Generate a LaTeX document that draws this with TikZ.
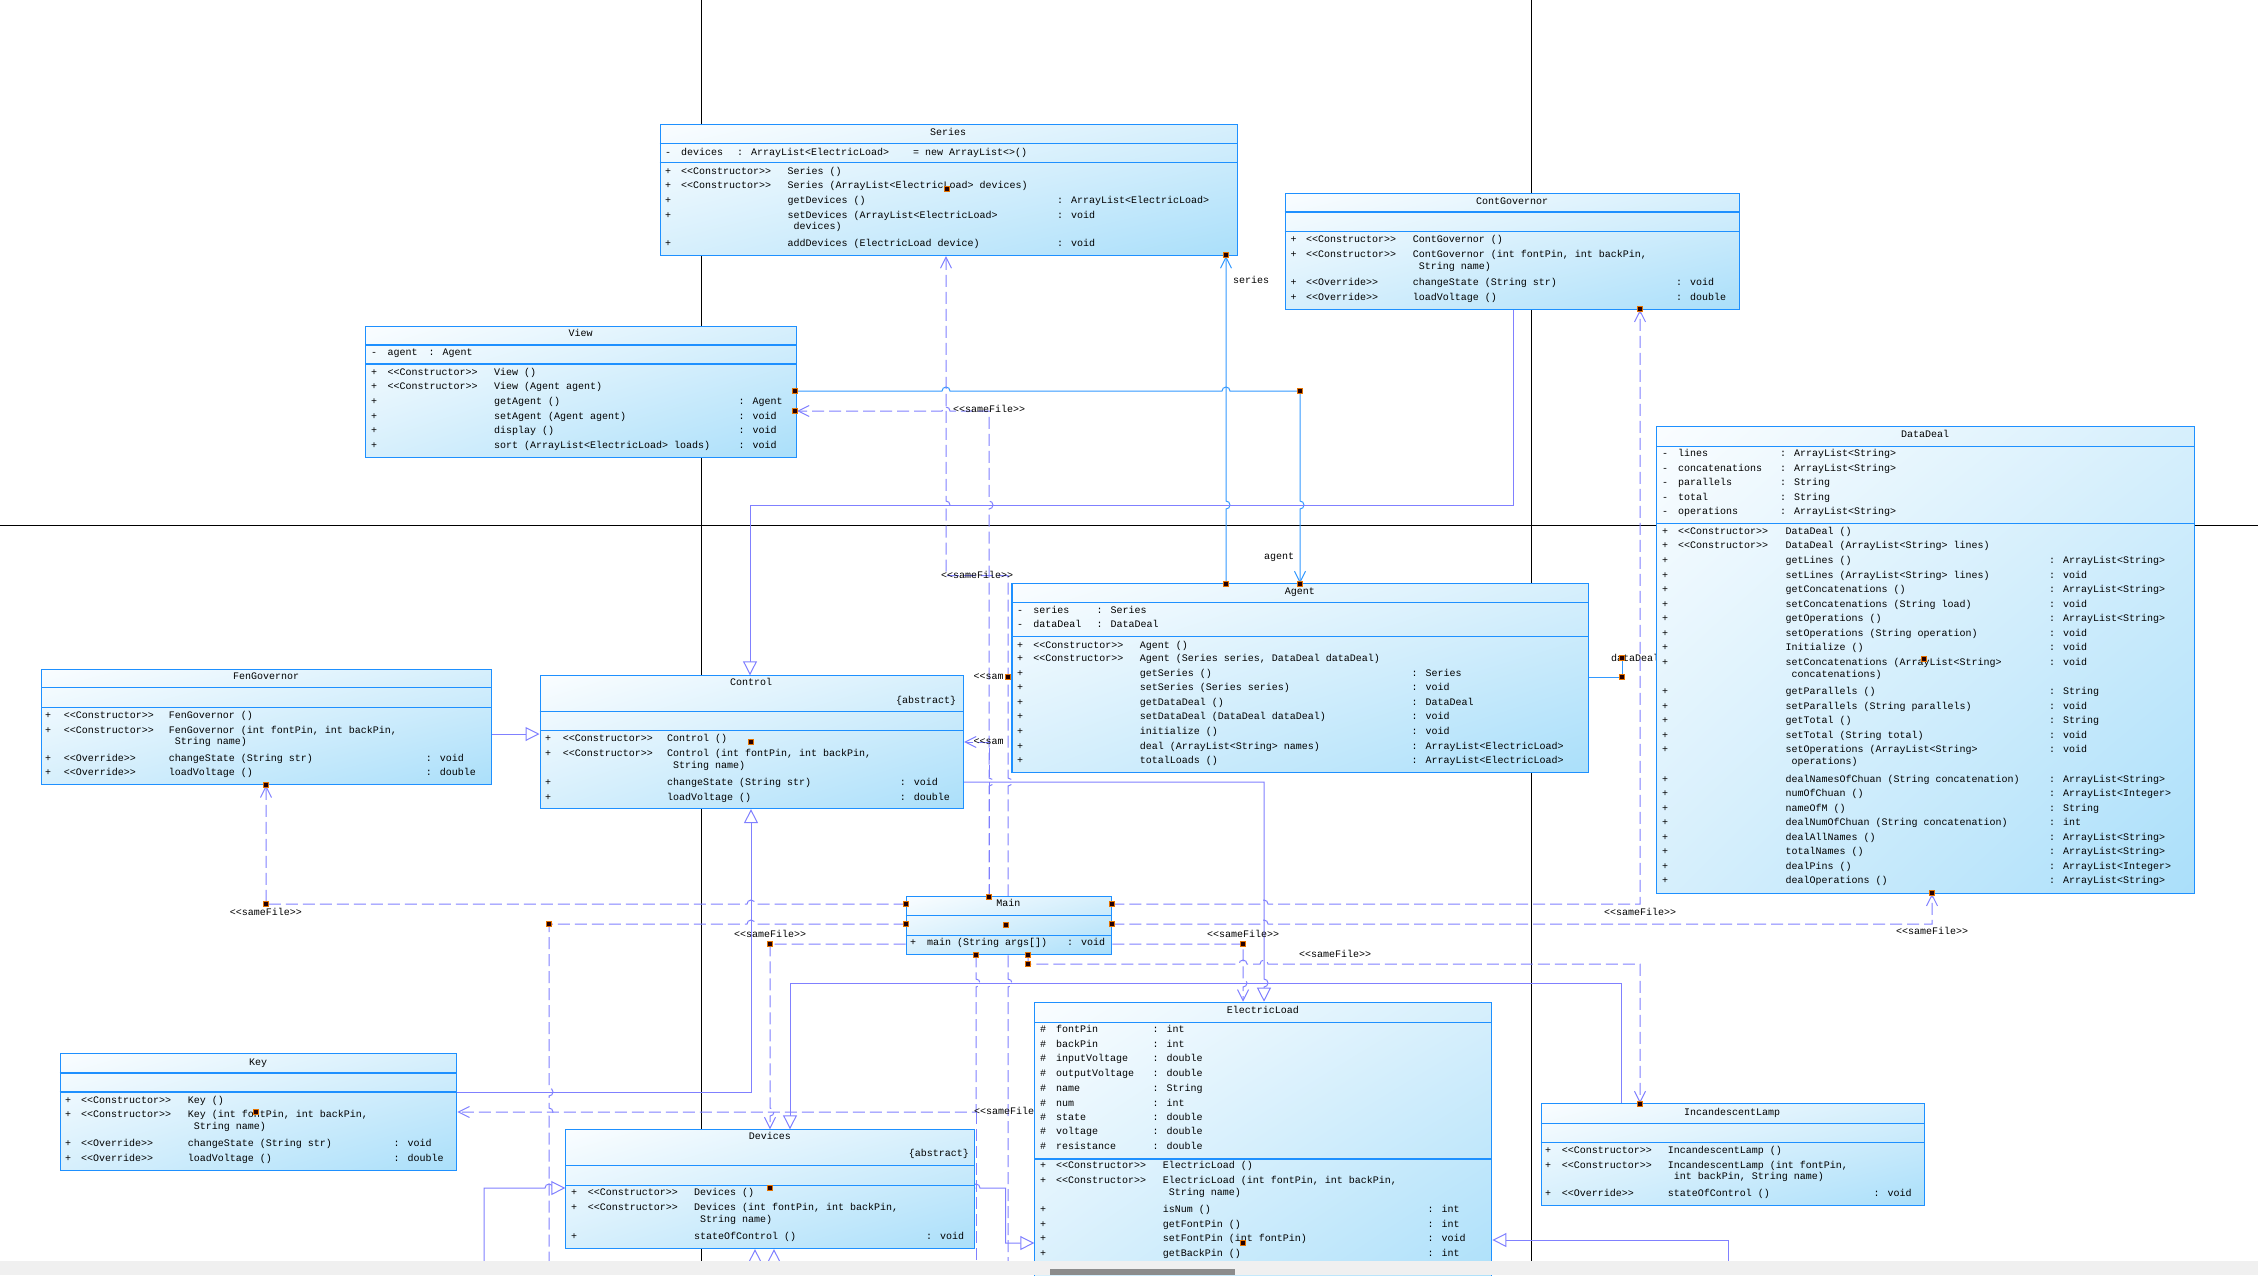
\documentclass[tikz,border=0pt]{standalone}
\usepackage{fontspec}
\newfontfamily\umlfont{Liberation Mono}
\usetikzlibrary{arrows.meta,calc,shadings}
\pgfdeclarelayer{pagel}
\pgfdeclarelayer{conn}
\pgfsetlayers{pagel,conn,main}
\definecolor{clsb}{RGB}{30,144,255}
\definecolor{assocc}{RGB}{51,153,255}
\definecolor{depc}{RGB}{128,128,255}
\definecolor{gtl}{RGB}{250,253,255}
\definecolor{gmid}{RGB}{214,239,252}
\definecolor{gbr}{RGB}{170,223,250}
\newcount\txn
\newcommand\tx[3]{\if\relax\detokenize{#3}\relax\else\global\advance\txn by 1\relax\node[txt] (tx\the\txn) at (#1,#2) {#3};\fi}
\newcommand\mrow[5]{\tx{\xs}{#1}{#2}\tx{\xa}{#1}{#3}\tx{\xb}{#1}{#4}\tx{\xr}{#1}{#5}}
\newcommand\cont[2]{\tx{\xb+6}{#1}{#2}}
\newcommand\cons{<{}<Constructor>{}>}
\newcommand\ovr{<{}<Override>{}>}
\newcommand\sameF{<{}<sameFile>{}>}
\newcommand\umlbox[5]{\node[cls, minimum width=#4, minimum height=#5] (#1) at (#2,#3) {};}
\newcommand\hsep[3]{\draw[sep] (#1,#3) -- (#2,#3);}
% hops: moving right / left / down / up
\newcommand\HR[2]{-- (#1-4,#2) arc[start angle=180,end angle=360,radius=4]}
\newcommand\HL[2]{-- (#1+4,#2) arc[start angle=0,end angle=-180,radius=4]}
\newcommand\VD[2]{-- (#1,#2-4) arc[start angle=-90,end angle=90,radius=4]}
\newcommand\VU[2]{-- (#1,#2+4) arc[start angle=90,end angle=-90,radius=4]}
\begin{document}
\begin{tikzpicture}[x=1pt,y=-1pt,
  cls/.style={draw=clsb, line width=1.1pt, shade, upper left=gtl, upper right=gmid, lower left=gmid, lower right=gbr, inner sep=0pt, anchor=north west},
  sep/.style={draw=clsb, line width=1.1pt},
  txt/.style={font=\umlfont\fontsize{10}{12}\selectfont, anchor=west, inner sep=0pt, text height=7pt, text depth=2pt},
  ttl/.style={txt, anchor=center},
  lbl/.style={txt, anchor=center},
  assoc/.style={draw=assocc, line width=1pt},
  gen/.style={draw=depc, line width=1pt, -{Triangle[length=14pt,width=14pt,fill=white]}},
  dep/.style={draw=depc, line width=1pt, dash pattern=on 12pt off 5pt, -{Straight Barb[length=11pt,width=11pt]}},
  depn/.style={draw=depc, line width=1pt, dash pattern=on 12pt off 5pt},
  barb/.style={-{Straight Barb[length=11pt,width=11pt]}},
  mk/.style={fill=black!85!red, draw=orange!90!black, line width=0.4pt, minimum size=5pt, inner sep=0pt},
  page/.style={draw=black, line width=0.8pt}]
\useasboundingbox (0,0) rectangle (2258,1275);
\begin{pgfonlayer}{pagel}
\fill[white] (0,0) rectangle (2258,1275);
\draw[page] (701.3,0) -- (701.3,1262);
\draw[page] (1531.7,0) -- (1531.7,1262);
\draw[page] (0,525.8) -- (2258,525.8);
\end{pgfonlayer}

% ---------- class boxes ----------
% Series
\umlbox{series}{659.5}{124}{577}{131}
\hsep{659.5}{1236.5}{143.3}\hsep{659.5}{1236.5}{162.7}
\node[ttl] (seriesT) at (948,132.7) {Series};
\def\xs{665}\def\xa{681}\def\xb{787.5}\def\xr{1057}
\tx{665}{152.7}{-}\tx{681}{152.7}{devices}\tx{737}{152.7}{: ArrayList<ElectricLoad>}\tx{913}{152.7}{= new ArrayList<>()}
\mrow{171.7}{+}{\cons}{Series ()}{}
\mrow{186.3}{+}{\cons}{Series (ArrayList<ElectricLoad> devices)}{}
\mrow{200.7}{+}{}{getDevices ()}{: ArrayList<ElectricLoad>}
\mrow{215.7}{+}{}{setDevices (ArrayList<ElectricLoad>}{: void}
\cont{227.3}{devices)}
\mrow{244.3}{+}{}{addDevices (ElectricLoad device)}{: void}

% ContGovernor
\umlbox{contgov}{1284.7}{192.7}{454.6}{116}
\hsep{1284.7}{1739.3}{212}\hsep{1284.7}{1739.3}{231.3}
\node[ttl] (contgovT) at (1512,202) {ContGovernor};
\def\xs{1290.3}\def\xa{1306}\def\xb{1412.7}\def\xr{1676}
\mrow{240.3}{+}{\cons}{ContGovernor ()}{}
\mrow{254.7}{+}{\cons}{ContGovernor (int fontPin, int backPin,}{}
\cont{266.7}{String name)}
\mrow{283.3}{+}{\ovr}{changeState (String str)}{: void}
\mrow{298}{+}{\ovr}{loadVoltage ()}{: double}

% View
\umlbox{view}{365.3}{326}{430.7}{131.3}
\hsep{365.3}{796}{345}\hsep{365.3}{796}{364}
\node[ttl] (viewT) at (580.6,334.3) {View};
\def\xs{371}\def\xa{387.3}\def\xb{494}\def\xr{738.3}
\tx{371}{353.3}{-}\tx{387.3}{353.3}{agent}\tx{428.3}{353.3}{: Agent}
\mrow{373}{+}{\cons}{View ()}{}
\mrow{387.3}{+}{\cons}{View (Agent agent)}{}
\mrow{402}{+}{}{getAgent ()}{: Agent}
\mrow{417.3}{+}{}{setAgent (Agent agent)}{: void}
\mrow{430.7}{+}{}{display ()}{: void}
\mrow{446}{+}{}{sort (ArrayList<ElectricLoad> loads)}{: void}

% DataDeal
\umlbox{datadeal}{1656.3}{426}{537.4}{466.7}
\hsep{1656.3}{2193.7}{446.3}\hsep{1656.3}{2193.7}{523.3}
\node[ttl] (datadealT) at (1925,435) {DataDeal};
\def\xs{1662}\def\xa{1678}\def\xb{1785.4}\def\xr{2049}
\tx{1662}{454}{-}\tx{1678}{454}{lines}\tx{1779.8}{454}{: ArrayList<String>}
\tx{1662}{469.3}{-}\tx{1678}{469.3}{concatenations}\tx{1779.8}{469.3}{: ArrayList<String>}
\tx{1662}{483.3}{-}\tx{1678}{483.3}{parallels}\tx{1779.8}{483.3}{: String}
\tx{1662}{498}{-}\tx{1678}{498}{total}\tx{1779.8}{498}{: String}
\tx{1662}{512.3}{-}\tx{1678}{512.3}{operations}\tx{1779.8}{512.3}{: ArrayList<String>}
\mrow{532}{+}{\cons}{DataDeal ()}{}
\mrow{546}{+}{\cons}{DataDeal (ArrayList<String> lines)}{}
\mrow{561}{+}{}{getLines ()}{: ArrayList<String>}
\mrow{575.7}{+}{}{setLines (ArrayList<String> lines)}{: void}
\mrow{590.3}{+}{}{getConcatenations ()}{: ArrayList<String>}
\mrow{605}{+}{}{setConcatenations (String load)}{: void}
\mrow{619.3}{+}{}{getOperations ()}{: ArrayList<String>}
\mrow{634}{+}{}{setOperations (String operation)}{: void}
\mrow{648.3}{+}{}{Initialize ()}{: void}
\mrow{663.3}{+}{}{setConcatenations (ArrayList<String>}{: void}
\cont{675.3}{concatenations)}
\mrow{692}{+}{}{getParallels ()}{: String}
\mrow{706.7}{+}{}{setParallels (String parallels)}{: void}
\mrow{721}{+}{}{getTotal ()}{: String}
\mrow{736}{+}{}{setTotal (String total)}{: void}
\mrow{750.3}{+}{}{setOperations (ArrayList<String>}{: void}
\cont{762}{operations)}
\mrow{780}{+}{}{dealNamesOfChuan (String concatenation)}{: ArrayList<String>}
\mrow{794}{+}{}{numOfChuan ()}{: ArrayList<Integer>}
\mrow{808.7}{+}{}{nameOfM ()}{: String}
\mrow{823.3}{+}{}{dealNumOfChuan (String concatenation)}{: int}
\mrow{837.7}{+}{}{dealAllNames ()}{: ArrayList<String>}
\mrow{852}{+}{}{totalNames ()}{: ArrayList<String>}
\mrow{867}{+}{}{dealPins ()}{: ArrayList<Integer>}
\mrow{881}{+}{}{dealOperations ()}{: ArrayList<String>}

% Agent
\umlbox{agent}{1011.4}{583.3}{576.8}{188.7}
\hsep{1011.4}{1588.2}{602.3}\hsep{1011.4}{1588.2}{636.3}
\node[ttl] (agentT) at (1299.8,591.7) {Agent};
\def\xs{1017}\def\xa{1033.2}\def\xb{1139.7}\def\xr{1411.3}
\tx{1017}{611.3}{-}\tx{1033.2}{611.3}{series}\tx{1096.4}{611.3}{: Series}
\tx{1017}{625}{-}\tx{1033.2}{625}{dataDeal}\tx{1096.4}{625}{: DataDeal}
\mrow{645.7}{+}{\cons}{Agent ()}{}
\mrow{659}{+}{\cons}{Agent (Series series, DataDeal dataDeal)}{}
\mrow{674.3}{+}{}{getSeries ()}{: Series}
\mrow{688}{+}{}{setSeries (Series series)}{: void}
\mrow{703}{+}{}{getDataDeal ()}{: DataDeal}
\mrow{716.7}{+}{}{setDataDeal (DataDeal dataDeal)}{: void}
\mrow{732}{+}{}{initialize ()}{: void}
\mrow{747}{+}{}{deal (ArrayList<String> names)}{: ArrayList<ElectricLoad>}
\mrow{761}{+}{}{totalLoads ()}{: ArrayList<ElectricLoad>}

% FenGovernor
\umlbox{fen}{41}{668.7}{450.2}{115.6}
\hsep{41}{491.2}{687.3}\hsep{41}{491.2}{707.3}
\node[ttl] (fenT) at (266.1,676.7) {FenGovernor};
\def\xs{45}\def\xa{63.6}\def\xb{168.6}\def\xr{425.6}
\mrow{715.7}{+}{\cons}{FenGovernor ()}{}
\mrow{730.7}{+}{\cons}{FenGovernor (int fontPin, int backPin,}{}
\cont{742}{String name)}
\mrow{759.3}{+}{\ovr}{changeState (String str)}{: void}
\mrow{773.3}{+}{\ovr}{loadVoltage ()}{: double}

% Control
\umlbox{control}{539.5}{675.3}{423.5}{132.7}
\hsep{539.5}{963}{711.7}\hsep{539.5}{963}{730.7}
\node[ttl] (controlT) at (751.2,683.3) {Control};
\node[txt, anchor=east] (controlA) at (956.3,700.7) {\{abstract\}};
\def\xs{545}\def\xa{562.7}\def\xb{667}\def\xr{899.6}
\mrow{739.3}{+}{\cons}{Control ()}{}
\mrow{754.3}{+}{\cons}{Control (int fontPin, int backPin,}{}
\cont{766}{String name)}
\mrow{783.3}{+}{}{changeState (String str)}{: void}
\mrow{798}{+}{}{loadVoltage ()}{: double}

% Main
\umlbox{main}{905.6}{896.3}{205.6}{58}
\hsep{905.6}{1111.2}{915.3}\hsep{905.6}{1111.2}{935.3}
\node[ttl] (mainT) at (1008.4,904.3) {Main};
\tx{910}{943}{+}\tx{927}{943}{main (String args[])}\tx{1067}{943}{: void}

% ElectricLoad
\umlbox{eload}{1034.3}{1001.7}{457}{300}
\hsep{1034.3}{1491.3}{1022.7}\hsep{1034.3}{1491.3}{1159}
\node[ttl] (eloadT) at (1262.8,1010.7) {ElectricLoad};
\def\xs{1040}\def\xa{1056}\def\xb{1162.7}\def\xr{1427.3}
\tx{1040}{1030.3}{\#}\tx{1056}{1030.3}{fontPin}\tx{1152.3}{1030.3}{: int}
\tx{1040}{1045.3}{\#}\tx{1056}{1045.3}{backPin}\tx{1152.3}{1045.3}{: int}
\tx{1040}{1059.3}{\#}\tx{1056}{1059.3}{inputVoltage}\tx{1152.3}{1059.3}{: double}
\tx{1040}{1074.3}{\#}\tx{1056}{1074.3}{outputVoltage}\tx{1152.3}{1074.3}{: double}
\tx{1040}{1089.3}{\#}\tx{1056}{1089.3}{name}\tx{1152.3}{1089.3}{: String}
\tx{1040}{1103.7}{\#}\tx{1056}{1103.7}{num}\tx{1152.3}{1103.7}{: int}
\tx{1040}{1118.3}{\#}\tx{1056}{1118.3}{state}\tx{1152.3}{1118.3}{: double}
\tx{1040}{1132.3}{\#}\tx{1056}{1132.3}{voltage}\tx{1152.3}{1132.3}{: double}
\tx{1040}{1147.3}{\#}\tx{1056}{1147.3}{resistance}\tx{1152.3}{1147.3}{: double}
\mrow{1166.3}{+}{\cons}{ElectricLoad ()}{}
\mrow{1181.3}{+}{\cons}{ElectricLoad (int fontPin, int backPin,}{}
\cont{1193.3}{String name)}
\mrow{1210}{+}{}{isNum ()}{: int}
\mrow{1225}{+}{}{getFontPin ()}{: int}
\mrow{1239.3}{+}{}{setFontPin (int fontPin)}{: void}
\mrow{1254}{+}{}{getBackPin ()}{: int}

% Key
\umlbox{key}{59.7}{1053.3}{396.6}{117}
\hsep{59.7}{456.3}{1073}\hsep{59.7}{456.3}{1092}
\node[ttl] (keyT) at (258,1062.7) {Key};
\def\xs{65}\def\xa{81}\def\xb{187.7}\def\xr{393.3}
\mrow{1100.7}{+}{\cons}{Key ()}{}
\mrow{1115.3}{+}{\cons}{Key (int fontPin, int backPin,}{}
\cont{1127.3}{String name)}
\mrow{1144.3}{+}{\ovr}{changeState (String str)}{: void}
\mrow{1159}{+}{\ovr}{loadVoltage ()}{: double}

% Devices
\umlbox{devices}{565.3}{1129.3}{409}{118.7}
\hsep{565.3}{974.3}{1165.3}\hsep{565.3}{974.3}{1185.3}
\node[ttl] (devicesT) at (769.8,1137.3) {Devices};
\node[txt, anchor=east] (devicesA) at (969,1154.3) {\{abstract\}};
\def\xs{571}\def\xa{587.7}\def\xb{694}\def\xr{926}
\mrow{1193.3}{+}{\cons}{Devices ()}{}
\mrow{1208.3}{+}{\cons}{Devices (int fontPin, int backPin,}{}
\cont{1220.3}{String name)}
\mrow{1237.3}{+}{}{stateOfControl ()}{: void}

% IncandescentLamp
\umlbox{lamp}{1540.7}{1103.3}{383}{102}
\hsep{1540.7}{1923.7}{1123.3}\hsep{1540.7}{1923.7}{1142.7}
\node[ttl] (lampT) at (1732.2,1112.7) {IncandescentLamp};
\def\xs{1545}\def\xa{1561.7}\def\xb{1667.7}\def\xr{1873.3}
\mrow{1151}{+}{\cons}{IncandescentLamp ()}{}
\mrow{1165.7}{+}{\cons}{IncandescentLamp (int fontPin,}{}
\cont{1177.3}{int backPin, String name)}
\mrow{1194.3}{+}{\ovr}{stateOfControl ()}{: void}

% ---------- connectors (below the boxes) ----------
\begin{pgfonlayer}{conn}
\coordinate (a1) at (1300,391);
\coordinate (a2) at (1226,420);
\coordinate (a3) at (1622,677);
\coordinate (a4) at (1622,658);
\coordinate (g1) at (1513,505);
\coordinate (g2) at (750,505);
\coordinate (g3) at (0,734);
\coordinate (g4) at (1264,782);
\coordinate (g5) at (1621,983);
\coordinate (g6) at (790,983);
\coordinate (g7) at (751,1092);
\coordinate (g8) at (1005.5,1188);
\coordinate (g9) at (1005.5,1243);
\coordinate (g10) at (484,1262);
\coordinate (g11) at (484,1188);
\coordinate (g12) at (755,1262);
\coordinate (g13) at (774,1262);
\coordinate (g14) at (1728,1262);
\coordinate (g15) at (1728,1240);
\coordinate (d1) at (989,411);
\coordinate (d2) at (1008,575.7);
\coordinate (d3) at (946,575.7);
\coordinate (d4) at (266,904);
\coordinate (d5) at (1640,904);
\coordinate (d6) at (549,924);
\coordinate (d6b) at (549,1262);
\coordinate (d7) at (1932,924);
\coordinate (d8) at (770,944);
\coordinate (d9) at (1243,944);
\coordinate (d10) at (1028,964);
\coordinate (d11) at (1640,964);
\coordinate (d12) at (976,1112);
\coordinate (d14) at (989,742);
\coordinate (d15) at (976,1262);
\coordinate (d16) at (1008,1262);

% associations
\draw[assoc, barb] (view.east |- a1) \HR{946}{391} \HR{1226}{391} -- (a1) \VD{1300}{505} -- (a1 |- agent.north);
\node[lbl] (lagent) at (1279,556.7) {agent};
\draw[assoc, barb] (a2 |- agent.north) \VU{1226}{505} -- (a2 |- series.south);
\node[lbl] (lseries) at (1251,281) {series};
\draw[assoc] (agent.east |- a3) -- (a3) -- (a4);
\node[lbl] (ldd) at (1635,659) {dataDeal};

% generalizations
\draw[gen] (g1 |- contgov.south) -- (g1) -- (g2) -- (g2 |- control.north);
\draw[gen] (fen.east |- g3) -- (control.west |- g3);
\draw[gen] (control.east |- g4) -- (g4) \VD{1264}{983} -- (g4 |- eload.north);
\draw[gen] (g5 |- lamp.north) -- (g5) -- (g6) -- (g6 |- devices.north);
\draw[gen] (key.east |- g7) -- (g7) -- (g7 |- control.south);
\draw[gen] (devices.east |- g8) \HR{976}{1188} -- (g8) -- (g9) -- (eload.west |- g9);
\draw[gen] (g10) -- (g11) \HR{549}{1188} -- (devices.west |- g11);
\draw[gen] (g12) -- (g12 |- devices.south);
\draw[gen] (g13) -- (g13 |- devices.south);
\draw[gen] (g14) -- (g15) -- (eload.east |- g15);

% dependencies <<sameFile>>
\draw[dep] (d1 |- main.north) \VU{989}{782} \VU{989}{505} -- (d1) \HL{946}{411} -- (view.east |- d1);
\node[lbl] (l1) at (989,410) {\sameF};
\draw[dep] (d2 |- main.north) \VU{1008}{782} -- (d2) -- (d3) \VU{946}{505} -- (d3 |- series.south);
\node[lbl] (l2) at (977,575.7) {\sameF};
\draw[dep] (d14 |- main.north) -- (d14) -- (control.east |- d14);
\draw[dep] (main.west |- d4) \HL{751}{904} -- (d4) -- (d4 |- fen.south);
\node[lbl] (l3) at (266,913) {\sameF};
\draw[dep] (main.east |- d5) \HR{1264}{904} -- (d5) -- (d5 |- contgov.south);
\node[lbl] (l4) at (1640,913) {\sameF};
\draw[depn] (main.west |- d6) \HL{751}{924} -- (d6) \VD{549}{1092} \VD{549}{1112} -- (d6b);
\draw[dep] (main.east |- d7) \HR{1264}{924} -- (d7) -- (d7 |- datadeal.south);
\node[lbl] (l5) at (1932,932) {\sameF};
\draw[dep] (main.west |- d8) -- (d8) \VD{770}{1112} -- (d8 |- devices.north);
\node[lbl] (l6) at (770,935) {\sameF};
\draw[dep] (main.east |- d9) -- (d9) \VD{1243}{983} -- (d9 |- eload.north);
\node[lbl] (l7) at (1243,935) {\sameF};
\draw[dep] (d10 |- main.south) -- (d10) \HR{1243}{964} \HR{1264}{964} -- (d11) -- (d11 |- lamp.north);
\node[lbl] (l8) at (1335,955) {\sameF};
\draw[dep] (d12 |- main.south) \VD{976}{983} -- (d12) -- (key.east |- d12);
\draw[depn] (d12) -- (d15);
\draw[depn] (d16 |- main.south) \VD{1008}{983} -- (d16);
% labels partly hidden behind the Agent box in the reference
\node[txt] (l9) at (973.5,677) {<{}<sam};
\node[txt] (l10) at (973.5,742) {<{}<sam};
\node[lbl] (l11) at (1010,1112) {\sameF};
\end{pgfonlayer}

% ---------- handles ----------
\foreach \p [count=\i] in {(795,391),(1300,391),(1300,583.3),(1226,583.3),(1226,255),(795,411),(1640,308.7),(266,784.3),(266,904),(549,924),(905.6,904),(905.6,924),(1111.2,904),(1111.2,924),(989,896.3),(770,944),(1243,944),(976,954.3),(1028,954.3),(1028,964),(1640,1103.3),(1932,893),(1006,925),(750.6,741.7),(946.7,189),(1924,659),(255.7,1111.3),(770,1188),(1242.7,1242.7),(1622,677),(1622,658),(1007.6,677)}
  \node[mk] (h\i) at \p {};

% ---------- scroll bar ----------
\fill[black!6] (0,1261) rectangle (2258,1275);
\fill[black!45] (1050,1269) rectangle (1235,1275);
\end{tikzpicture}
\end{document}
